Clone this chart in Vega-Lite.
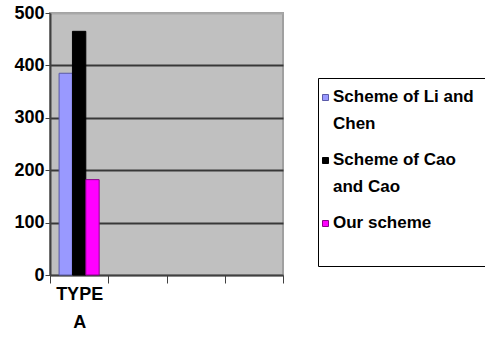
{
  "$schema": "https://vega.github.io/schema/vega-lite/v6.json",
  "width": 233,
  "height": 262,
  "autosize": "none",
  "padding": {"left": 50, "top": 13, "right": 202, "bottom": 64},
  "background": "white",
  "config": {
    "view": {"fill": "#c0c0c0", "stroke": "#a0a0a0", "strokeWidth": 2},
    "font": "Liberation Sans"
  },
  "data": {
    "values": [
      {"type": "TYPE A", "scheme": "Scheme of Li and Chen", "value": 385},
      {"type": "TYPE A", "scheme": "Scheme of Cao and Cao", "value": 465},
      {"type": "TYPE A", "scheme": "Our scheme", "value": 182}
    ]
  },
  "mark": {"type": "bar", "strokeWidth": 1},
  "encoding": {
    "x": {
      "field": "type",
      "type": "nominal",
      "scale": {"domain": ["TYPE A", "B", "C", "D"], "paddingInner": 0, "paddingOuter": 0},
      "axis": {
        "title": null,
        "labelExpr": "datum.value == 'TYPE A' ? ['TYPE', 'A'] : ''",
        "labelAngle": 0,
        "labelFontSize": 18,
        "labelFontWeight": "bold",
        "labelColor": "black",
        "labelLineHeight": 28,
        "labelPadding": 2,
        "tickBand": "extent",
        "tickSize": 8,
        "tickColor": "#404040",
        "domainColor": "#404040",
        "domainWidth": 2,
        "grid": false
      }
    },
    "xOffset": {
      "field": "scheme",
      "sort": ["Scheme of Li and Chen", "Scheme of Cao and Cao", "Our scheme"],
      "scale": {"paddingInner": 0, "paddingOuter": 0.68}
    },
    "y": {
      "field": "value",
      "type": "quantitative",
      "scale": {"domain": [0, 500]},
      "axis": {
        "title": null,
        "values": [0, 100, 200, 300, 400, 500],
        "labelFontSize": 18,
        "labelFontWeight": "bold",
        "labelColor": "black",
        "tickSize": 5,
        "tickColor": "#404040",
        "domainColor": "#404040",
        "domainWidth": 2,
        "labelPadding": 1,
        "gridColor": {"condition": {"test": "datum.value == 500 || datum.value == 0", "value": "#a8a8a8"}, "value": "#383838"},
        "gridWidth": 2
      }
    },
    "color": {
      "field": "scheme",
      "type": "nominal",
      "sort": ["Scheme of Li and Chen", "Scheme of Cao and Cao", "Our scheme"],
      "scale": {
        "domain": ["Scheme of Li and Chen", "Scheme of Cao and Cao", "Our scheme"],
        "range": ["#9999ff", "#000000", "#ff00ff"]
      },
      "legend": {
        "orient": "none",
        "legendX": 268,
        "legendY": 65,
        "title": " ",
        "titleOrient": "bottom",
        "titleFontSize": 20,
        "titlePadding": 4,
        "strokeColor": "black",
        "fillColor": "white",
        "padding": 11,
        "symbolType": "square",
        "symbolSize": 36,
        "symbolOffset": -12,
        "symbolStrokeWidth": 1,
        "symbolStrokeColor": "#404040",
        "labelFontSize": 17,
        "labelFontWeight": "bold",
        "labelColor": "black",
        "labelLimit": 300,
        "labelOffset": 3,
        "labelBaseline": "top",
        "rowPadding": 18,
        "labelExpr": "datum.label == 'Scheme of Li and Chen' ? ['Scheme of Li and', 'Chen'] : datum.label == 'Scheme of Cao and Cao' ? ['Scheme of Cao', 'and Cao'] : datum.label",
        "encode": {"labels": {"update": {"lineHeight": {"value": 27}, "dy": {"value": -9}, "dx": {"value": -4}}}}
      }
    },
    "stroke": {
      "field": "scheme",
      "type": "nominal",
      "scale": {
        "domain": ["Scheme of Li and Chen", "Scheme of Cao and Cao", "Our scheme"],
        "range": ["#5a5aa8", "#000000", "#8a008a"]
      },
      "legend": null
    }
  }
}
